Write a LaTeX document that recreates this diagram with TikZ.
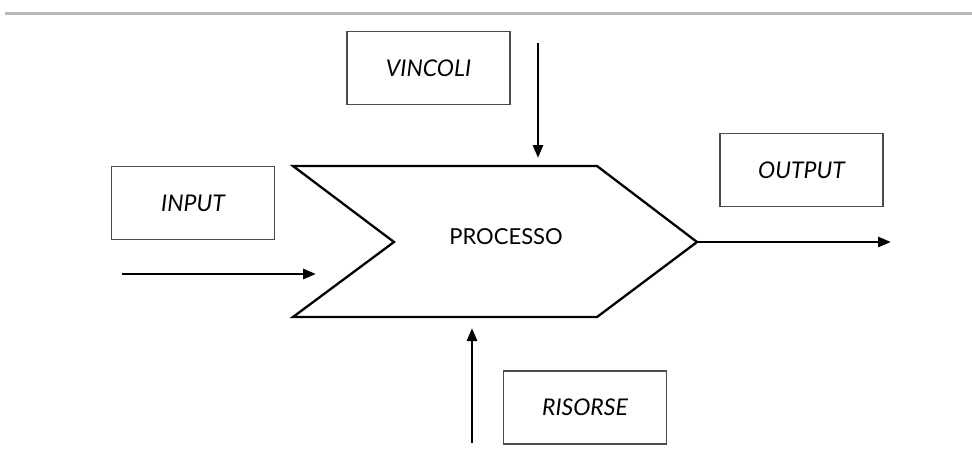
\documentclass[tikz,border=0pt]{standalone}
\usepackage{fontspec}
\setmainfont{Lato}
\usetikzlibrary{arrows.meta}
\begin{document}
\begin{tikzpicture}[x=1pt,y=-1pt,
  lbl/.style={draw=black!70,line width=1.3pt,minimum width=163pt,minimum height=73pt,inner sep=0pt,font=\fontsize{23}{26}\selectfont\itshape},
  flow/.style={line width=2.8pt,-{Triangle[length=13pt,width=10pt]}},
  chev/.style={line width=2.3pt,line join=miter}]
\useasboundingbox (0,0) rectangle (972,453);
\draw[line width=3pt,draw=black!28] (5,13) -- (972,13);
% chevron vertices
\coordinate (tl) at (293,166);
\coordinate (tr) at (597,166);
\coordinate (tip) at (697,242);
\coordinate (br) at (597,317);
\coordinate (bl) at (293,317);
\coordinate (notch) at (394,242);
\draw[chev] (tl) -- (tr) -- (tip) -- (br) -- (bl) -- (notch) -- cycle;
\node[font=\fontsize{22}{25}\selectfont] (proc) at (506,237) {PROCESSO};
% labels
\node[lbl] (input) at (193,203) {INPUT};
\node[lbl] (vinc) at (428.5,68) {VINCOLI};
\node[lbl] (out) at (801.5,170) {OUTPUT};
\node[lbl] (ris) at (585,407.5) {RISORSE};
% arrows
\coordinate (inS) at (122,274);
\coordinate (inE) at (316,274);
\draw[flow] (inS) -- (inE);
\coordinate (vS) at (538,43);
\coordinate (vE) at (538,158);
\draw[flow] (vS) -- (vE);
\coordinate (rS) at (472,443);
\coordinate (rE) at (472,328);
\draw[flow] (rS) -- (rE);
\coordinate (oE) at (891,242);
\draw[flow] (tip) -- (oE);
\end{tikzpicture}
\end{document}
